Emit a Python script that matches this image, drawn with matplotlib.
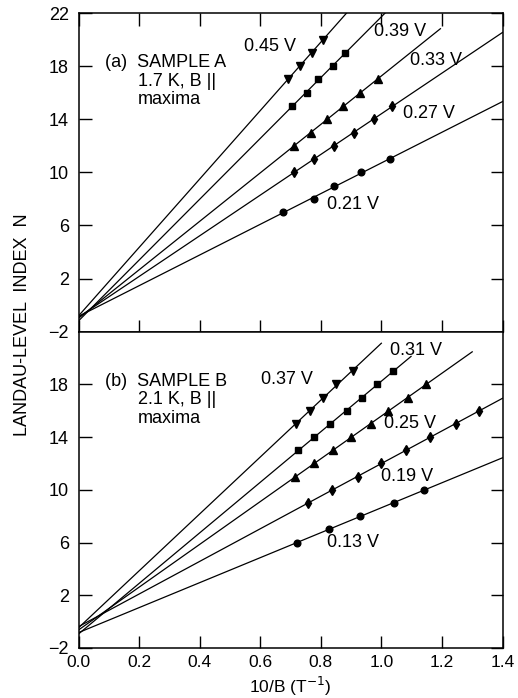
import numpy as np
import matplotlib
matplotlib.use("Agg")
import matplotlib.pyplot as plt

plt.rcParams['font.family'] = ['Liberation Sans', 'DejaVu Sans']

# panel (a): sample A, 1.7 K
a_volts = ['0.45 V', '0.39 V', '0.33 V', '0.27 V', '0.21 V']
a_x = [
    [0.691, 0.730, 0.770, 0.807],
    [0.705, 0.754, 0.792, 0.840, 0.880],
    [0.713, 0.768, 0.820, 0.873, 0.931, 0.988],
    [0.710, 0.777, 0.845, 0.909, 0.977, 1.034],
    [0.675, 0.779, 0.845, 0.933, 1.029],
]
a_n = [
    [17, 18, 19, 20],
    [15, 16, 17, 18, 19],
    [12, 13, 14, 15, 16, 17],
    [10, 11, 12, 13, 14, 15],
    [7, 8, 9, 10, 11],
]
a_xend = [1.4, 1.4, 1.195, 1.4, 1.4]

# panel (b): sample B, 2.1 K
b_volts = ['0.37 V', '0.31 V', '0.25 V', '0.19 V', '0.13 V']
b_x = [
    [0.719, 0.763, 0.806, 0.851, 0.906],
    [0.724, 0.779, 0.832, 0.887, 0.935, 0.986, 1.038],
    [0.716, 0.779, 0.840, 0.900, 0.966, 1.021, 1.087, 1.148],
    [0.759, 0.836, 0.922, 0.999, 1.082, 1.161, 1.245, 1.322],
    [0.721, 0.826, 0.931, 1.043, 1.140],
]
b_n = [
    [15, 16, 17, 18, 19],
    [13, 14, 15, 16, 17, 18, 19],
    [11, 12, 13, 14, 15, 16, 17, 18],
    [9, 10, 11, 12, 13, 14, 15, 16],
    [6, 7, 8, 9, 10],
]
b_xend = [1.0, 1.098, 1.30, 1.4, 1.4]

markers = ['v', 's', '^', 'd', 'o']
msizes = [5.5, 4.6, 5.5, 5.5, 4.8]

# label positions (data coords)
a_lab = [(0.548, 19.45), (0.977, 20.6), (1.093, 18.45), (1.07, 14.45), (0.822, 7.6)]
b_lab = [(0.604, 18.4), (1.03, 20.6), (1.01, 15.0), (1.0, 11.0), (0.822, 5.97)]

fig = plt.figure(figsize=(5.18, 6.98), dpi=100)
L, R = 78.5 / 518, 502.5 / 518
top_a, mid, bot = 1 - 13 / 698, 1 - 331.7 / 698, 1 - 648 / 698
ax_a = fig.add_axes([L, mid, R - L, top_a - mid])
ax_b = fig.add_axes([L, bot, R - L, mid - bot])


def draw_panel(ax, xs, ns, xend, volts, labs, header):
    for i in range(len(xs)):
        x = np.array(xs[i])
        n = np.array(ns[i])
        k, b = np.polyfit(x, n, 1)
        xx = np.array([0.0, xend[i]])
        ax.plot(xx, k * xx + b, color='black', lw=0.9)
        ax.plot(x, n, linestyle='none', marker=markers[i], ms=msizes[i],
                color='black', mec='black')
        ax.text(labs[i][0], labs[i][1], volts[i], fontsize=13, va='center', ha='left')
    ax.text(0.086, 18.25, header[0], fontsize=13, va='center', ha='left')
    ax.text(0.195, 16.85, header[1], fontsize=13, va='center', ha='left')
    ax.text(0.195, 15.45, header[2], fontsize=13, va='center', ha='left')
    ax.set_xlim(0, 1.4)
    ax.set_ylim(-2, 22)
    ax.set_xticks(np.arange(0, 1.41, 0.2))
    for s in ax.spines.values():
        s.set_linewidth(1.1)


draw_panel(ax_a, a_x, a_n, a_xend, a_volts, a_lab, ['(a)  SAMPLE A', '1.7 K, B ||', 'maxima'])
draw_panel(ax_b, b_x, b_n, b_xend, b_volts, b_lab, ['(b)  SAMPLE B', '2.1 K, B ||', 'maxima'])

ax_a.set_yticks([-2, 2, 6, 10, 14, 18, 22])
ax_a.tick_params(direction='in', length=9, width=1, top=True, right=True,
                 labelbottom=False, labelsize=13, pad=7)
ax_b.set_yticks([-2, 2, 6, 10, 14, 18])
ax_b.tick_params(direction='in', length=9, width=1, top=False, right=True,
                 labelsize=13, pad=7)
ax_b.tick_params(axis='x', pad=5, labelsize=12.5)
ax_b.set_xticklabels(['0.0', '0.2', '0.4', '0.6', '0.8', '1.0', '1.2', '1.4'])
ax_b.set_xlabel('10/B (T$^{-1}$)', fontsize=12.5, va='center')
ax_b.xaxis.set_label_coords(0.5, -0.12)

fig.text(23 / 518, 1 - 325 / 698, 'LANDAU-LEVEL  INDEX  N', rotation=90,
         fontsize=13, va='center', ha='center',
         family=['Liberation Sans Narrow', 'Liberation Sans', 'DejaVu Sans'])

fig.savefig('out.png', dpi=100)
